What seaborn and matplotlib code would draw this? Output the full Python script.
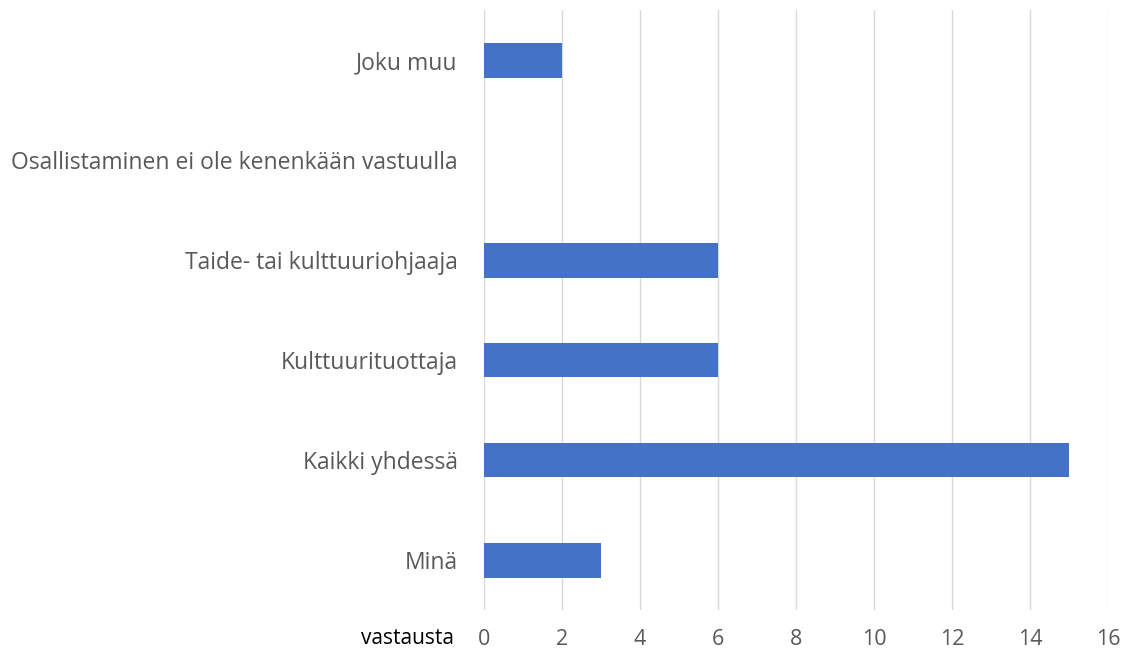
import matplotlib
matplotlib.use("Agg")
import matplotlib.pyplot as plt
import seaborn as sns
import pandas as pd

categories = ["Joku muu", "Osallistaminen ei ole kenenkään vastuulla",
              "Taide- tai kulttuuriohjaaja", "Kulttuurituottaja",
              "Kaikki yhdessä", "Minä"]
values = [2, 0, 6, 6, 15, 3]
x_ticks = [0, 2, 4, 6, 8, 10, 12, 14, 16]
axis_label = "vastausta"

sns.set_theme(style="white")
plt.rcParams['font.family'] = ['Open Sans', 'DejaVu Sans']

df = pd.DataFrame({"category": categories, "value": values})

fig = plt.figure(figsize=(11.35, 6.55), dpi=100)
ax = fig.add_axes([484/1135, 1 - 610/655, (1108-484)/1135, 600/655])

sns.barplot(data=df, y="category", x="value", order=categories,
            color="#4472C4", saturation=1, width=0.35, linewidth=0,
            ax=ax, zorder=3)

ax.set_xlim(0, 16)
ax.set_ylim(5.5, -0.5)
ax.set_xticks(x_ticks)
ax.set_xticklabels([str(t) for t in x_ticks])
ax.xaxis.grid(True, color="#D9D9D9", linewidth=1.0, zorder=0)
ax.yaxis.grid(False)
for s in ax.spines.values():
    s.set_visible(False)
ax.set_xlabel("")
ax.set_ylabel("")
ax.tick_params(axis="x", length=0, pad=14, labelsize=15.5, labelcolor="#595959")
ax.tick_params(axis="y", length=0, pad=19, labelsize=16.5, labelcolor="#595959")

ax.text(-0.048, -28/600, axis_label, transform=ax.transAxes, ha="right", va="center",
        fontsize=15, color="black")

fig.savefig("out.png", dpi=100)
